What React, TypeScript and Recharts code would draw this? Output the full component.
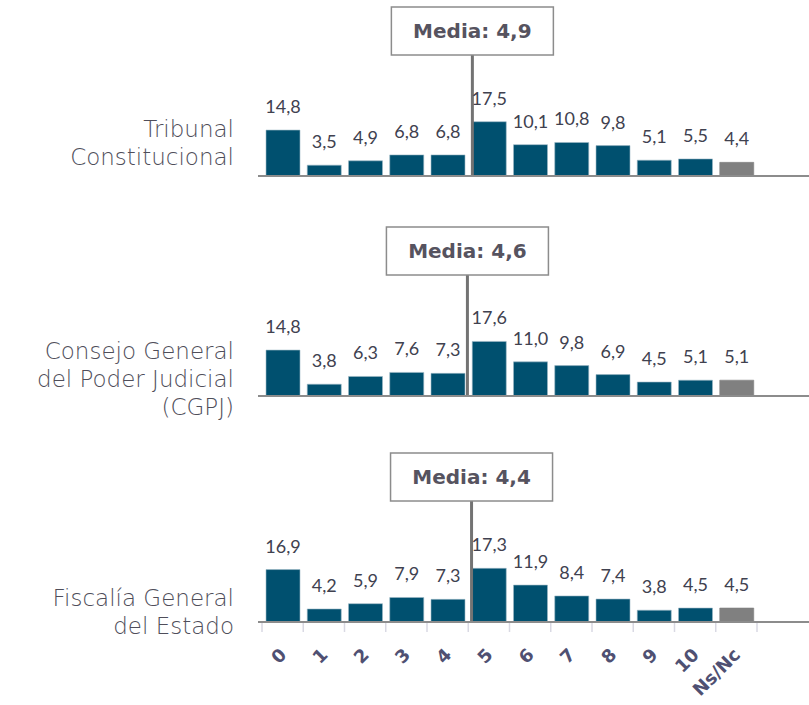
import { BarChart, Bar, XAxis, YAxis, ReferenceLine, LabelList, Cell } from "recharts";

const categories = ["0", "1", "2", "3", "4", "5", "6", "7", "8", "9", "10", "Ns/Nc"];

const tribunalValues = [14.8, 3.5, 4.9, 6.8, 6.8, 17.5, 10.1, 10.8, 9.8, 5.1, 5.5, 4.4];
const cgpjValues = [14.8, 3.8, 6.3, 7.6, 7.3, 17.6, 11.0, 9.8, 6.9, 4.5, 5.1, 5.1];
const fiscaliaValues = [16.9, 4.2, 5.9, 7.9, 7.3, 17.3, 11.9, 8.4, 7.4, 3.8, 4.5, 4.5];

const panelTitles = [
  ["Tribunal", "Constitucional"],
  ["Consejo General", "del Poder Judicial", "(CGPJ)"],
  ["Fiscalía General", "del Estado"],
];
const medias = ["4,9", "4,6", "4,4"];
// media line position in category units (5 = left edge of category "5")
const mediaLinePos = [5.1, 4.98, 5.08];

const BAR_COLOR = "#00506f";
const NSNC_COLOR = "#808080";
const W = 809;
const PLOT_H = 122;
const TOP = 55;
const PLOT_LEFT = 258;
const PAD = { left: 4, right: 52 };
const BAND = (W - PLOT_LEFT - PAD.left - PAD.right) / categories.length;

const fmt = (v: number) => v.toFixed(1).replace(".", ",");

function MediaBox(props: any) {
  const { viewBox, text, shift } = props;
  const cx = viewBox.x + shift;
  const bw = 162;
  const bh = 48;
  const top = viewBox.y - bh;
  return (
    <g>
      <rect x={cx - bw / 2} y={top} width={bw} height={bh} fill="#fff" stroke="#8c8c8c" strokeWidth={1.5} />
      <text
        x={cx}
        y={top + bh / 2 + 1}
        textAnchor="middle"
        dominantBaseline="middle"
        fontFamily="'DejaVu Sans', sans-serif"
        fontWeight={700}
        fontSize={20}
        fill="#56535f"
      >
        {text}
      </text>
    </g>
  );
}

function RotatedTick(props: any) {
  const { x, y, payload, index } = props;
  const ax = x + 5;
  const ay = y + 34;
  const isLast = index === categories.length - 1;
  return (
    <g>
      <line x1={x - BAND / 2} x2={x - BAND / 2} y1={y + 1} y2={y + 10} stroke="#d9d9e3" strokeWidth={1.5} />
      {isLast && (
        <line x1={x + BAND / 2} x2={x + BAND / 2} y1={y + 1} y2={y + 10} stroke="#d9d9e3" strokeWidth={1.5} />
      )}
      <text
        x={ax}
        y={ay}
        transform={`rotate(-45, ${ax}, ${ay})`}
        textAnchor="end"
        fontFamily="'DejaVu Sans', sans-serif"
        fontWeight={700}
        fontSize={18}
        fill="#4f5072"
      >
        {payload.value}
      </text>
    </g>
  );
}

function Panel({ values, idx, top, last }: { values: number[]; idx: number; top: number; last: boolean }) {
  const data = categories.map((c, i) => ({ cat: c, v: values[i] }));
  const bottom = last ? 80 : 10;
  const shift = (mediaLinePos[idx] - 5.5) * BAND;
  return (
    <div style={{ position: "absolute", left: 0, top }}>
      <BarChart
        width={W}
        height={TOP + PLOT_H + bottom}
        data={data}
        margin={{ top: TOP, right: 0, bottom, left: PLOT_LEFT }}
      >
        <YAxis hide domain={[0, 39]} allowDataOverflow />
        <XAxis
          dataKey="cat"
          height={1}
          padding={PAD}
          axisLine={{ stroke: "#8c8c8c", strokeWidth: 2 }}
          tickLine={false}
          tickSize={0}
          tickMargin={0}
          tick={last ? <RotatedTick /> : false}
          interval={0}
        />
        <Bar dataKey="v" barSize={34} isAnimationActive={false} strokeWidth={0.6}>
          {data.map((d, i) => (
            <Cell
              key={i}
              fill={d.cat === "Ns/Nc" ? NSNC_COLOR : BAR_COLOR}
              stroke={d.cat === "Ns/Nc" ? NSNC_COLOR : "#9db8c6"}
            />
          ))}
          <LabelList
            dataKey="v"
            position="top"
            offset={17}
            formatter={(v: any) => fmt(Number(v))}
            fill="#40414f"
            fontSize={18}
            fontFamily="Lato, sans-serif"
          />
        </Bar>
        <ReferenceLine
          x="5"
          stroke="#737373"
          strokeWidth={3}
          shape={(p: any) => (
            <line x1={p.x1 + shift} x2={p.x2 + shift} y1={p.y1} y2={p.y2} stroke="#737373" strokeWidth={3} />
          )}
          label={(p: any) => <MediaBox {...p} shift={shift} text={`Media: ${medias[idx]}`} />}
        />
      </BarChart>
    </div>
  );
}

function SideLabel({ lines, bottomY }: { lines: string[]; bottomY: number }) {
  const lh = 28;
  return (
    <div
      style={{
        position: "absolute",
        left: 0,
        width: 234,
        top: bottomY - lines.length * lh,
        textAlign: "right",
        fontFamily: "'DejaVu Sans', sans-serif",
        fontWeight: 300,
        fontSize: 23,
        lineHeight: `${lh}px`,
        color: "#4f4e5a",
      }}
    >
      {lines.map((l, i) => (
        <div key={i}>{l}</div>
      ))}
    </div>
  );
}

export default function App() {
  const tops = [0, 220, 446];
  return (
    <div style={{ position: "absolute", left: 0, top: 0, width: W, height: 705, background: "#fff" }}>
      <Panel values={tribunalValues} idx={0} top={tops[0]} last={false} />
      <Panel values={cgpjValues} idx={1} top={tops[1]} last={false} />
      <Panel values={fiscaliaValues} idx={2} top={tops[2]} last={true} />
      <SideLabel lines={panelTitles[0]} bottomY={171} />
      <SideLabel lines={panelTitles[1]} bottomY={421} />
      <SideLabel lines={panelTitles[2]} bottomY={640} />
    </div>
  );
}
